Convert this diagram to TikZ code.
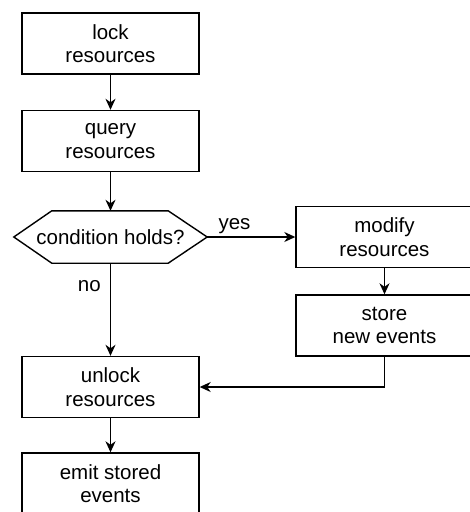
\documentclass[tikz,border=0pt]{standalone}
\usepackage{fontspec}
\setmainfont{Liberation Sans}
\usetikzlibrary{arrows.meta}
\usetikzlibrary{calc}

\tikzset{
  stepbox/.style={draw, line width=1.4pt, minimum width=177pt, minimum height=61pt,
    align=center, inner sep=0pt, font=\fontsize{20.5}{23.5}\selectfont},
  condbox/.style={minimum width=193pt, minimum height=52pt, inner sep=0pt,
    font=\fontsize{20.5}{23.5}\selectfont},
  flow/.style={line width=1.4pt, -{Stealth[length=11pt, width=10pt, inset=3.5pt]}},
  answer/.style={font=\fontsize{20.5}{23.5}\selectfont, inner sep=3pt}
}

\begin{document}
\begin{tikzpicture}[x=1pt, y=-1pt]
\useasboundingbox (0,0) rectangle (470,512);
\clip (0,0) rectangle (470,512);

% main column
\node[stepbox] (lock)   at (110.5, 43.5) {lock\\resources};
\node[stepbox] (query)  at (110.5,141)   {query\\resources};
\node[condbox] (cond)   at (110.5,237)   {condition holds?};
\node[stepbox] (unlock) at (110.5,387)   {unlock\\resources};
\node[stepbox] (emit)   at (110.5,483.5) {emit stored\\events};

% yes branch
\node[stepbox] (modify) at (384.5,237)   {modify\\resources};
\node[stepbox] (store)  at (384.5,325.5) {store\\new events};

% hexagon round the condition
\draw[line width=1.4pt] (cond.west) -- ($(cond.north west)+(38,0)$)
  -- ($(cond.north east)+(-39,0)$) -- (cond.east)
  -- ($(cond.south east)+(-39,0)$) -- ($(cond.south west)+(38,0)$) -- cycle;

\draw[flow] (lock) -- (query);
\draw[flow] (query) -- (cond.north);
\draw[flow] (cond.east) -- node[answer, pos=0.31, above] {yes} (modify.west);
\draw[flow] (cond.south) -- node[answer, pos=0.25, left, xshift=-6pt] {no} (unlock.north);
\draw[flow] (modify) -- (store);
\draw[flow] (store.south) |- (unlock.east);
\draw[flow] (unlock) -- (emit);
\end{tikzpicture}
\end{document}
